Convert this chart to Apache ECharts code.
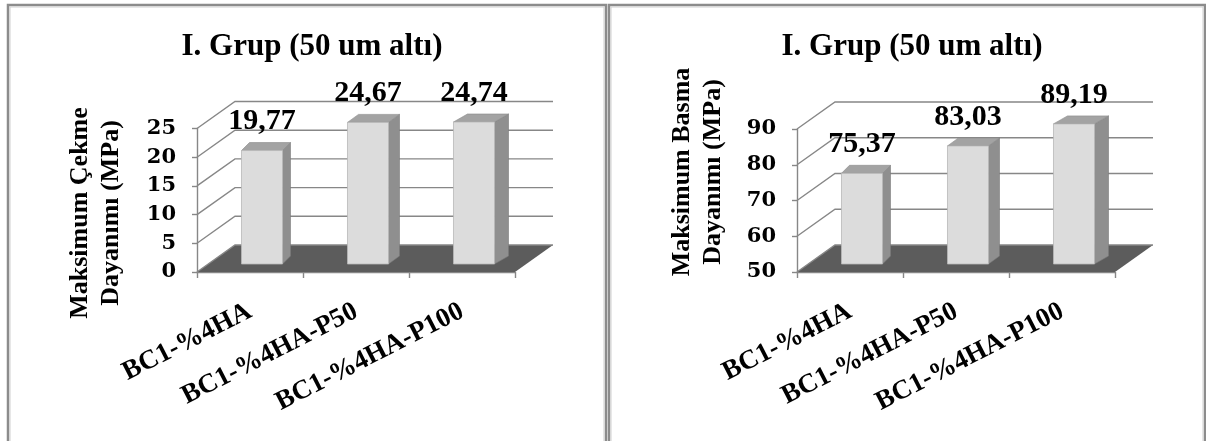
<!DOCTYPE html>
<html>
<head>
<meta charset="utf-8">
<script src="https://cdn.jsdelivr.net/npm/echarts@6/dist/echarts.min.js"></script>
<style>
  html, body { margin: 0; padding: 0; background: #ffffff; }
  #chart { width: 1206px; height: 441px; }
</style>
</head>
<body>
<div id="chart"></div>
<script>
// ---- data ----
const categories = ['BC1-%4HA', 'BC1-%4HA-P50', 'BC1-%4HA-P100'];
const tensileValues = [19.77, 24.67, 24.74];
const compressiveValues = [75.37, 83.03, 89.19];
const tensileTicks = [0, 5, 10, 15, 20, 25];
const compressiveTicks = [50, 60, 70, 80, 90];
const chartTitle = 'I. Grup (50 um altı)';
const tensileAxisName = 'Maksimum Çekme\nDayanımı (MPa)';
const compressiveAxisName = 'Maksimum Basma\nDayanımı (MPa)';

// ---- look ----
const SERIF = '"Liberation Serif", "Times New Roman", serif';
const WIDE_SERIF = '"DejaVu Serif", "Liberation Serif", serif';
const GRID_COLOR = '#878787';
const FLOOR_COLOR = '#5c5c5c';
const FRONT_COLOR = '#dcdcdc';
const SIDE_COLOR = '#8f8f8f';
const TOP_COLOR = '#a3a3a3';
const DEPTH_DX = 38, DEPTH_DY = -27;      // floor / wall depth
const BAR_SHIFT_X = 12, BAR_SHIFT_Y = -8; // bars stand inside the floor
const BAR_RATIO = 0.387;
const SIDE_DX0 = 8, SIDE_DX_STEP = 3, TOP_DY = -8;

const chart = echarts.init(document.getElementById('chart'), null, { renderer: 'canvas' });

// walls: one diagonal on the side wall plus one line on the back wall per tick,
// the floor is laid under the lowest tick
function makeWallRenderer(ticks) {
  return function (params, api) {
    const cs = params.coordSys;
    const v = api.value(1);
    const y = api.coord([0, v])[1];
    const x0 = cs.x, x1 = cs.x + cs.width;
    const children = [];
    if (v === ticks[0]) {
      children.push({
        type: 'polygon',
        shape: { points: [[x0, y], [x1, y], [x1 + DEPTH_DX, y + DEPTH_DY], [x0 + DEPTH_DX, y + DEPTH_DY]] },
        style: { fill: FLOOR_COLOR }
      });
    }
    children.push({
      type: 'polyline',
      shape: { points: [[x0, y], [x0 + DEPTH_DX, y + DEPTH_DY], [x1 + DEPTH_DX, y + DEPTH_DY]] },
      style: { stroke: GRID_COLOR, lineWidth: 1.4, fill: null }
    });
    return { type: 'group', children: children };
  };
}

// bars drawn as three faces: front, right side and top, with the value above
function makeBarRenderer(minValue) {
  return function (params, api) {
    const i = api.value(0);
    const v = api.value(1);
    const base = api.coord([i, minValue]);
    const top = api.coord([i, v]);
    const band = api.size([1, 0])[0];
    const w = band * BAR_RATIO;
    const cx = base[0] + BAR_SHIFT_X;
    const xl = cx - w / 2, xr = cx + w / 2;
    const yb = base[1] + BAR_SHIFT_Y, yt = top[1] + BAR_SHIFT_Y;
    const sd = SIDE_DX0 + SIDE_DX_STEP * i;
    return {
      type: 'group',
      children: [
        { type: 'polygon', shape: { points: [[xr, yt], [xr + sd, yt + TOP_DY], [xr + sd, yb + TOP_DY], [xr, yb]] },
          style: { fill: SIDE_COLOR, stroke: '#7a7a7a', lineWidth: 0.6 } },
        { type: 'polygon', shape: { points: [[xl, yt], [xl + sd, yt + TOP_DY], [xr + sd, yt + TOP_DY], [xr, yt]] },
          style: { fill: TOP_COLOR, stroke: '#8a8a8a', lineWidth: 0.6 } },
        { type: 'rect', shape: { x: xl, y: yt, width: w, height: yb - yt },
          style: { fill: FRONT_COLOR, stroke: '#b8b8b8', lineWidth: 0.8 } },
        { type: 'text', x: cx, y: yt + TOP_DY - 6,
          style: { text: String(v).replace('.', ','), align: 'center', verticalAlign: 'bottom',
                   font: 'bold 30px ' + SERIF, fill: '#000000' } }
      ]
    };
  };
}

function xAxisFor(gridIndex) {
  return {
    type: 'category', gridIndex: gridIndex, data: categories,
    axisLine: { lineStyle: { color: GRID_COLOR, width: 1.4 } },
    axisTick: { show: true, length: 6, alignWithLabel: false, lineStyle: { color: GRID_COLOR, width: 1.4 } },
    axisLabel: { rotate: 27, margin: 38, fontFamily: SERIF, fontWeight: 'bold', fontSize: 27, color: '#000000' },
    splitLine: { show: false }
  };
}
function yAxisFor(gridIndex, ticks) {
  return {
    type: 'value', gridIndex: gridIndex,
    min: ticks[0], max: ticks[ticks.length - 1], interval: ticks[1] - ticks[0],
    axisLine: { show: true, lineStyle: { color: GRID_COLOR, width: 1.4 } },
    axisTick: { show: true, length: 5, lineStyle: { color: GRID_COLOR, width: 1.4 } },
    axisLabel: { margin: 21, fontFamily: WIDE_SERIF, fontWeight: 'bold', fontSize: 21, color: '#000000' },
    splitLine: { show: false }
  };
}

function panelFrame(x, w) {
  return [
    { type: 'rect', shape: { x: x, y: 5, width: w, height: 460 },
      style: { fill: null, stroke: '#8c8c8c', lineWidth: 2.5 }, silent: true },
    { type: 'rect', shape: { x: x + 2, y: 7, width: w - 4, height: 460 },
      style: { fill: null, stroke: '#cfcfcf', lineWidth: 1 }, silent: true }
  ];
}

function axisTitle(x, y, text) {
  return {
    type: 'text', x: x, y: y, rotation: Math.PI / 2,
    style: { text: text, align: 'center', verticalAlign: 'middle', lineHeight: 31,
             font: 'bold 26px ' + SERIF, fill: '#000000' }
  };
}

chart.setOption({
  animation: false,
  backgroundColor: '#ffffff',
  title: [
    { text: chartTitle, left: 307, top: 26, textAlign: 'center',
      textStyle: { fontFamily: SERIF, fontWeight: 'bold', fontSize: 31, color: '#000000' } },
    { text: chartTitle, left: 907, top: 26, textAlign: 'center',
      textStyle: { fontFamily: SERIF, fontWeight: 'bold', fontSize: 31, color: '#000000' } }
  ],
  grid: [
    { left: 197, top: 128.5, width: 318, height: 143.5 },
    { left: 797, top: 129, width: 318, height: 143 }
  ],
  xAxis: [xAxisFor(0), xAxisFor(1)],
  yAxis: [yAxisFor(0, tensileTicks), yAxisFor(1, compressiveTicks)],
  graphic: [].concat(
    panelFrame(8, 598),
    panelFrame(609, 596),
    [axisTitle(95.5, 213, tensileAxisName), axisTitle(697.5, 172, compressiveAxisName)]
  ),
  series: [
    { type: 'custom', name: 'walls-1', xAxisIndex: 0, yAxisIndex: 0, silent: true,
      renderItem: makeWallRenderer(tensileTicks),
      data: tensileTicks.map(function (t) { return [0, t]; }), encode: { x: 0, y: 1 }, z: 1 },
    { type: 'custom', name: 'Maksimum Çekme Dayanımı', xAxisIndex: 0, yAxisIndex: 0,
      renderItem: makeBarRenderer(tensileTicks[0]),
      data: tensileValues.map(function (v, i) { return [i, v]; }), encode: { x: 0, y: 1 }, z: 2 },
    { type: 'custom', name: 'walls-2', xAxisIndex: 1, yAxisIndex: 1, silent: true,
      renderItem: makeWallRenderer(compressiveTicks),
      data: compressiveTicks.map(function (t) { return [0, t]; }), encode: { x: 0, y: 1 }, z: 1 },
    { type: 'custom', name: 'Maksimum Basma Dayanımı', xAxisIndex: 1, yAxisIndex: 1,
      renderItem: makeBarRenderer(compressiveTicks[0]),
      data: compressiveValues.map(function (v, i) { return [i, v]; }), encode: { x: 0, y: 1 }, z: 2 }
  ]
});
</script>
</body>
</html>
